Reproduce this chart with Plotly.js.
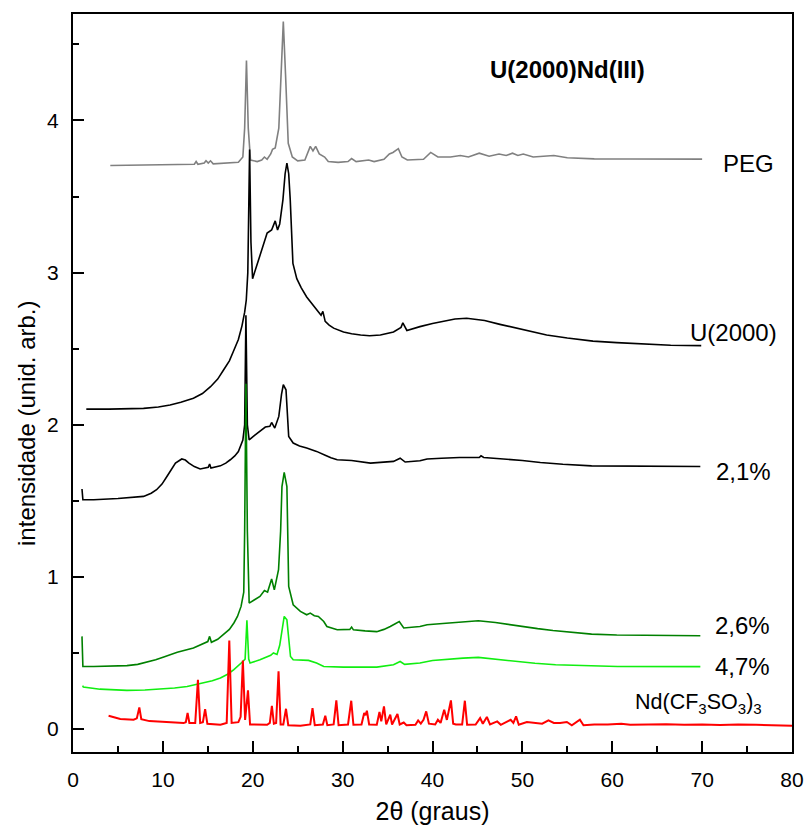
<!DOCTYPE html>
<html>
<head>
<meta charset="utf-8">
<script src="https://cdn.plot.ly/plotly-3.0.1.min.js"></script>
<style>html,body{margin:0;padding:0;background:#fff;}#chart{width:808px;height:825px;}</style>
</head>
<body>
<div id="chart"></div>
<script>
// ---- data (2theta in degrees, intensity in arbitrary units) ----
const pegData = [[4.15,3.704],[8,3.706],[12,3.71],[13.5,3.712],[13.7,3.73],[13.9,3.712],[14.6,3.72],[14.8,3.735],[15.05,3.72],[15.3,3.735],[15.6,3.715],[17,3.72],[18.4,3.725],[18.9,3.76],[19.1,3.95],[19.3,4.395],[19.5,3.95],[19.75,3.74],[20.5,3.73],[21.0,3.74],[21.3,3.76],[21.6,3.745],[22.0,3.78],[22.2,3.81],[22.5,3.82],[22.9,3.95],[23.15,4.3],[23.4,4.65],[23.65,4.3],[23.95,3.85],[24.4,3.76],[25.0,3.735],[25.8,3.74],[26.4,3.83],[26.7,3.80],[27.0,3.83],[27.4,3.78],[28.0,3.76],[28.4,3.73],[29.5,3.725],[30.6,3.73],[31.0,3.75],[31.5,3.73],[32.3,3.735],[32.9,3.74],[33.5,3.73],[34.6,3.745],[35.2,3.78],[35.6,3.79],[36.2,3.815],[36.6,3.76],[37.2,3.74],[39.0,3.745],[39.8,3.79],[40.6,3.76],[42.0,3.76],[43.1,3.77],[44.0,3.76],[45.2,3.785],[46.3,3.765],[47.4,3.78],[48.2,3.77],[48.9,3.785],[49.5,3.77],[50.1,3.78],[51.2,3.76],[53.5,3.77],[55,3.755],[58,3.748],[62,3.747],[66,3.746],[70,3.746]];

const u2000Data = [[1.48,2.103],[4,2.103],[7.85,2.108],[8.5,2.11],[9.5,2.117],[10.8,2.13],[12,2.148],[13.4,2.175],[14.4,2.205],[15.3,2.25],[16.1,2.3],[16.75,2.36],[17.4,2.42],[17.9,2.49],[18.4,2.56],[18.8,2.65],[19.1,2.74],[19.28,2.82],[19.45,3.0],[19.65,3.81],[19.8,3.2],[19.98,2.96],[20.4,3.04],[20.8,3.106],[21.2,3.19],[21.6,3.26],[22.1,3.28],[22.5,3.34],[22.76,3.28],[23.0,3.32],[23.36,3.48],[23.6,3.65],[23.8,3.72],[24.0,3.65],[24.17,3.48],[24.47,3.06],[24.9,2.96],[25.4,2.9],[26.0,2.84],[26.5,2.8],[27.1,2.756],[27.6,2.72],[27.8,2.745],[28.06,2.68],[28.5,2.655],[29.0,2.635],[30.1,2.61],[31,2.598],[32.0,2.59],[33,2.585],[34.2,2.59],[35.0,2.6],[35.66,2.61],[36.5,2.64],[36.7,2.67],[37.15,2.62],[38.0,2.635],[38.6,2.645],[40,2.665],[41.2,2.68],[42.5,2.695],[43.8,2.70],[45.8,2.685],[47.5,2.66],[49.25,2.635],[51,2.61],[52.7,2.59],[55,2.57],[57.85,2.55],[60.5,2.54],[63.6,2.53],[66.5,2.523],[69.9,2.52]];

const nd21Data = [[1.0,1.578],[1.1,1.507],[2.3,1.507],[5,1.515],[7.85,1.529],[8.7,1.55],[9.3,1.573],[9.9,1.61],[10.45,1.66],[11.0,1.715],[11.4,1.748],[12.1,1.775],[12.5,1.768],[12.9,1.748],[13.5,1.725],[14.15,1.709],[15.05,1.72],[15.2,1.742],[15.35,1.715],[16.4,1.73],[17.0,1.748],[17.5,1.77],[18.0,1.795],[18.4,1.824],[18.9,1.90],[19.1,2.0],[19.24,2.72],[19.4,2.0],[19.6,1.90],[20.2,1.93],[20.8,1.956],[21.4,1.985],[21.9,1.99],[22.1,2.015],[22.45,1.978],[22.9,2.055],[23.2,2.2],[23.4,2.263],[23.7,2.23],[23.9,2.05],[24.0,1.923],[24.5,1.88],[25.2,1.86],[26.0,1.847],[27.1,1.825],[28.06,1.80],[28.7,1.783],[29.4,1.77],[31.0,1.765],[33.1,1.748],[35.66,1.759],[36.4,1.78],[36.96,1.755],[38.6,1.763],[39.4,1.775],[41,1.78],[43,1.785],[45.2,1.785],[45.4,1.796],[45.7,1.785],[48,1.775],[50,1.765],[52.0,1.752],[54.5,1.74],[57.7,1.73],[63.5,1.726],[69.8,1.726]];

const nd26Data = [[1.0,0.609],[1.1,0.411],[2.3,0.411],[6.0,0.417],[7.2,0.425],[8.2,0.438],[9.2,0.455],[10.1,0.473],[11.6,0.504],[13.4,0.532],[14.5,0.565],[15.0,0.575],[15.2,0.609],[15.4,0.57],[16.1,0.59],[16.75,0.62],[17.4,0.655],[17.9,0.697],[18.3,0.74],[18.7,0.806],[19.0,0.9],[19.1,1.3],[19.24,2.27],[19.4,1.3],[19.6,0.828],[20.2,0.85],[20.8,0.872],[21.3,0.911],[21.65,0.9],[22.1,0.986],[22.4,0.915],[22.87,1.047],[23.1,1.3],[23.25,1.594],[23.5,1.687],[23.8,1.594],[24.0,0.937],[24.5,0.817],[25.3,0.773],[26.0,0.751],[26.4,0.762],[26.85,0.745],[27.3,0.74],[27.9,0.707],[28.25,0.674],[29.4,0.653],[30.8,0.655],[31.0,0.670],[31.2,0.652],[32.5,0.645],[33.8,0.64],[34.6,0.655],[35.3,0.674],[36.3,0.707],[36.8,0.664],[38.6,0.674],[39.4,0.685],[41.5,0.695],[43.4,0.703],[45.1,0.712],[47,0.7],[48.6,0.685],[50.0,0.674],[51.7,0.66],[53.4,0.648],[55.5,0.635],[57.7,0.624],[60.5,0.618],[63.5,0.615],[69.8,0.613]];

const nd47Data = [[1.07,0.285],[1.15,0.276],[3,0.262],[6.0,0.254],[8,0.257],[9.7,0.263],[11.3,0.27],[12.7,0.28],[14.5,0.302],[15.5,0.317],[16.4,0.335],[17.2,0.36],[17.9,0.39],[18.4,0.415],[18.9,0.444],[19.15,0.46],[19.35,0.714],[19.55,0.46],[19.7,0.434],[20.8,0.455],[22.0,0.485],[22.3,0.50],[22.7,0.49],[23.0,0.55],[23.25,0.653],[23.5,0.74],[23.8,0.718],[24.0,0.6],[24.2,0.477],[24.5,0.455],[26.2,0.451],[27.1,0.434],[27.9,0.411],[30.1,0.407],[33.8,0.407],[35.66,0.423],[36.4,0.444],[36.9,0.425],[38.6,0.434],[40.0,0.451],[41.7,0.46],[43.4,0.466],[45.1,0.471],[47.2,0.458],[49.1,0.444],[51.4,0.432],[53.7,0.423],[57,0.415],[60.6,0.411],[69.8,0.41]];

const saltData = [[3.96,0.087],[5.26,0.066],[6.74,0.061],[7.1,0.07],[7.38,0.142],[7.6,0.065],[8.5,0.052],[10.45,0.043],[12.3,0.039],[12.55,0.045],[12.75,0.105],[12.95,0.04],[13.6,0.04],[13.9,0.324],[14.15,0.04],[14.45,0.045],[14.7,0.131],[14.95,0.035],[16.4,0.028],[17.1,0.04],[17.39,0.582],[17.65,0.04],[18.4,0.045],[18.65,0.08],[18.9,0.451],[19.15,0.06],[19.47,0.254],[19.7,0.03],[21.6,0.028],[21.9,0.04],[22.13,0.153],[22.35,0.035],[22.6,0.04],[22.87,0.379],[23.1,0.03],[23.4,0.03],[23.7,0.133],[23.95,0.025],[25.3,0.022],[26.4,0.03],[26.65,0.138],[26.9,0.025],[27.8,0.03],[28.07,0.087],[28.3,0.025],[29.0,0.03],[29.3,0.188],[29.55,0.025],[30.6,0.03],[30.96,0.186],[31.2,0.028],[32.1,0.03],[32.4,0.105],[32.55,0.09],[32.7,0.12],[32.95,0.03],[33.8,0.028],[34.1,0.112],[34.3,0.05],[34.6,0.149],[34.85,0.03],[35.3,0.094],[35.5,0.03],[36.1,0.099],[36.35,0.03],[36.8,0.043],[37.1,0.025],[38.1,0.028],[38.4,0.057],[38.7,0.035],[39.0,0.06],[39.3,0.116],[39.6,0.035],[40.3,0.03],[40.6,0.061],[40.9,0.04],[41.3,0.127],[41.6,0.06],[42.05,0.188],[42.3,0.035],[42.6,0.03],[43.3,0.03],[43.6,0.186],[43.85,0.028],[44.8,0.03],[45.3,0.072],[45.6,0.035],[46.05,0.079],[46.4,0.03],[47.2,0.05],[47.6,0.028],[48.7,0.061],[49.0,0.04],[49.3,0.083],[49.6,0.028],[50.5,0.046],[51.3,0.04],[52.2,0.035],[52.9,0.057],[53.5,0.04],[54.2,0.04],[54.95,0.046],[55.5,0.025],[56.4,0.061],[56.8,0.025],[58,0.03],[59.5,0.03],[61,0.035],[62,0.028],[64,0.03],[66,0.032],[68,0.028],[70,0.03],[72,0.026],[74,0.03],[76,0.028],[78,0.025],[80,0.022]];

const seriesNames = ['PEG', 'U(2000)', '2,1%', '2,6%', '4,7%', 'Nd(CF<sub>3</sub>SO<sub>3</sub>)<sub>3</sub>'];
const xTickVals = [0,10,20,30,40,50,60,70,80];
const yTickVals = [0,1,2,3,4];
const chartTitle = '<b>U(2000)Nd(III)</b>';
const xTitle = '2θ (graus)';
const yTitle = 'intensidade (unid. arb.)';

// ---- build traces ----
const FONT = 'Liberation Sans, Arial, Helvetica, sans-serif';
function mk(data, color, width) {
  return {x: data.map(p => p[0]), y: data.map(p => p[1]), type: 'scatter', mode: 'lines',
          line: {color: color, width: width}, hoverinfo: 'skip', showlegend: false};
}
const traces = [
  mk(pegData, '#808080', 1.6),
  mk(u2000Data, '#000000', 1.6),
  mk(nd21Data, '#000000', 1.6),
  mk(nd26Data, '#008000', 1.6),
  mk(nd47Data, '#11ee11', 1.6),
  mk(saltData, '#ff0000', 2.0)
];

// label positions (data coords)
const labelPos = [[75.2,3.72],[73.45,2.605],[74.64,1.693],[74.5,0.681],[74.5,0.411],[69.6,0.17]];
const annotations = seriesNames.map((t, i) => ({
  x: labelPos[i][0], y: labelPos[i][1], xref: 'x', yref: 'y', text: t, showarrow: false,
  font: {family: FONT, size: i === 5 ? 21.5 : 24, color: '#000'}, xanchor: 'center', yanchor: 'middle'
}));
annotations.push({x: 55.0, y: 4.338, xref: 'x', yref: 'y', text: chartTitle, showarrow: false,
  font: {family: FONT, size: 24, color: '#000'}, xanchor: 'center', yanchor: 'middle'});
annotations.push({x: -0.065, y: 2.007, xref: 'paper', yref: 'y', text: yTitle, showarrow: false,
  textangle: -90, font: {family: FONT, size: 24, color: '#000'}, xanchor: 'center', yanchor: 'middle'});

const layout = {
  width: 808, height: 825,
  margin: {l: 73, r: 16, t: 14, b: 73},
  paper_bgcolor: '#fff', plot_bgcolor: '#fff',
  font: {family: FONT, size: 21, color: '#000'},
  xaxis: {
    range: [0, 80], tickvals: xTickVals, ticktext: xTickVals.map(String),
    ticks: 'inside', ticklen: 11, tickwidth: 2, tickcolor: '#000',
    minor: {dtick: 5, tick0: 0, ticks: 'inside', ticklen: 6, tickwidth: 2, tickcolor: '#000'},
    showline: true, linecolor: '#000', linewidth: 2, mirror: true,
    showgrid: false, zeroline: false,
    tickfont: {family: FONT, size: 21, color: '#000'},
    ticklabelstandoff: 8,
    title: {text: xTitle, font: {family: FONT, size: 25, color: '#000'}, standoff: 15}
  },
  yaxis: {
    range: [-0.151, 4.70], tickvals: yTickVals, ticktext: yTickVals.map(String),
    ticks: 'inside', ticklen: 11, tickwidth: 2, tickcolor: '#000',
    minor: {dtick: 0.5, tick0: 0, ticks: 'inside', ticklen: 6, tickwidth: 2, tickcolor: '#000'},
    showline: true, linecolor: '#000', linewidth: 2, mirror: true,
    showgrid: false, zeroline: false,
    tickfont: {family: FONT, size: 21, color: '#000'},
    ticklabelstandoff: 8
  },
  annotations: annotations
};

Plotly.newPlot('chart', traces, layout, {staticPlot: true, displayModeBar: false});
</script>
</body>
</html>
